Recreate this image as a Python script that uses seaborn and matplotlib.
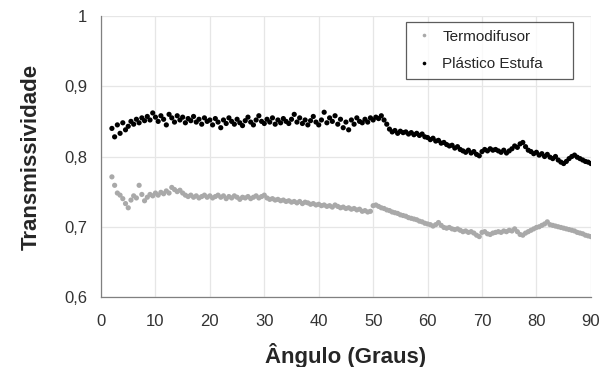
import numpy as np
import pandas as pd
import matplotlib
matplotlib.use("Agg")
import matplotlib.pyplot as plt
import seaborn as sns

angles = [round(2.0 + 0.5 * i, 1) for i in range(177)]

plastico = [
    0.840, 0.828, 0.845, 0.833, 0.848, 0.838, 0.843, 0.850, 0.846, 0.853,
    0.848, 0.855, 0.851, 0.857, 0.852, 0.862, 0.856, 0.850, 0.858, 0.853,
    0.845, 0.860, 0.855, 0.849, 0.858, 0.852, 0.856, 0.848, 0.854, 0.851,
    0.857, 0.849, 0.853, 0.846, 0.855, 0.850, 0.852, 0.845, 0.854, 0.849,
    0.841, 0.852, 0.847, 0.855, 0.850, 0.846, 0.853, 0.848, 0.844, 0.851,
    0.856, 0.849, 0.845, 0.852, 0.858, 0.850, 0.847, 0.853, 0.849, 0.855,
    0.846, 0.852, 0.848, 0.854, 0.850, 0.847, 0.853, 0.860, 0.849, 0.855,
    0.847, 0.852, 0.845, 0.851, 0.857, 0.849, 0.845, 0.852, 0.863, 0.848,
    0.855, 0.850, 0.858, 0.846, 0.853, 0.841, 0.849, 0.838, 0.852, 0.846,
    0.855, 0.850, 0.848, 0.853, 0.849, 0.855, 0.852, 0.856, 0.854, 0.858,
    0.852, 0.846, 0.839, 0.835, 0.837, 0.833, 0.836, 0.834, 0.835, 0.832,
    0.834, 0.831, 0.833, 0.830, 0.832, 0.828, 0.827, 0.824, 0.826, 0.822,
    0.823, 0.819, 0.820, 0.817, 0.815, 0.816, 0.812, 0.814, 0.810, 0.808,
    0.806, 0.809, 0.805, 0.807, 0.803, 0.801, 0.807, 0.810, 0.808, 0.811,
    0.809, 0.810, 0.808, 0.806, 0.809, 0.805, 0.808, 0.811, 0.815, 0.813,
    0.818, 0.820, 0.814, 0.809, 0.807, 0.804, 0.806, 0.802, 0.804, 0.800,
    0.803, 0.799, 0.797, 0.800, 0.795, 0.792, 0.790, 0.793, 0.797, 0.800,
    0.802, 0.799, 0.797, 0.795, 0.793, 0.792, 0.790,
]

termodifusor = [
    0.771, 0.759, 0.748, 0.745, 0.740, 0.733, 0.727, 0.738, 0.744, 0.741,
    0.759, 0.746, 0.737, 0.742, 0.746, 0.744, 0.748, 0.745, 0.749, 0.747,
    0.751, 0.748, 0.756, 0.753, 0.750, 0.752, 0.748, 0.745, 0.743, 0.745,
    0.742, 0.744, 0.741, 0.743, 0.745, 0.742, 0.744, 0.741, 0.743, 0.745,
    0.742, 0.744, 0.740, 0.743, 0.741, 0.744, 0.742, 0.739, 0.742, 0.741,
    0.743, 0.740, 0.742, 0.744, 0.741, 0.743, 0.745, 0.741, 0.739, 0.740,
    0.738, 0.739, 0.737, 0.738, 0.736, 0.737, 0.735, 0.736, 0.734, 0.736,
    0.733, 0.735, 0.734, 0.732, 0.733, 0.731, 0.732, 0.730, 0.731, 0.729,
    0.730, 0.728, 0.731, 0.729, 0.727, 0.728, 0.726, 0.727, 0.725, 0.726,
    0.724, 0.725, 0.722, 0.723, 0.721, 0.722, 0.730, 0.731, 0.729, 0.727,
    0.726, 0.724, 0.723, 0.721, 0.720, 0.719, 0.717, 0.716, 0.715, 0.713,
    0.712, 0.711, 0.710, 0.708, 0.707, 0.705, 0.704, 0.703, 0.701, 0.703,
    0.706, 0.702, 0.699, 0.698, 0.699, 0.697, 0.696, 0.697, 0.695, 0.693,
    0.694, 0.692, 0.693, 0.691, 0.688, 0.686, 0.692, 0.693, 0.690, 0.689,
    0.691, 0.692, 0.693, 0.692, 0.694, 0.693, 0.695, 0.694, 0.697, 0.693,
    0.689, 0.688, 0.691, 0.693, 0.695, 0.697, 0.699, 0.700, 0.702, 0.704,
    0.707, 0.703, 0.702, 0.701, 0.700, 0.699, 0.698, 0.697, 0.696, 0.695,
    0.694, 0.692, 0.691, 0.690, 0.688, 0.687, 0.686,
]

series_names = ["Termodifusor", "Plástico Estufa"]
x_ticks = [0, 10, 20, 30, 40, 50, 60, 70, 80, 90]
y_ticks = [0.6, 0.7, 0.8, 0.9, 1.0]
y_tick_labels = ["0,6", "0,7", "0,8", "0,9", "1"]

df = pd.DataFrame({
    "Ângulo": angles * 2,
    "Transmissividade": termodifusor + plastico,
    "Série": [series_names[0]] * len(angles) + [series_names[1]] * len(angles),
})

sns.set_style("white")
plt.rcParams["font.family"] = ["Liberation Sans", "DejaVu Sans"]

fig = plt.figure(figsize=(6.06, 3.67), dpi=100)
ax = fig.add_axes([0.1667, 0.1907, 0.8083, 0.7657])

sns.scatterplot(
    data=df, x="Ângulo", y="Transmissividade", hue="Série",
    palette={series_names[0]: "#a9a9a9", series_names[1]: "#000000"},
    s=14, linewidth=0, ax=ax, legend=True,
)

ax.set_xlim(0, 90)
ax.set_ylim(0.6, 1.0)
ax.set_xticks(x_ticks)
ax.set_yticks(y_ticks)
ax.set_yticklabels(y_tick_labels)
ax.grid(True, color="#e6e6e6", linewidth=0.9)
ax.set_axisbelow(True)

for side in ["top", "right"]:
    ax.spines[side].set_visible(False)
for side in ["left", "bottom"]:
    ax.spines[side].set_color("#808080")
    ax.spines[side].set_linewidth(0.9)

ax.tick_params(axis="x", direction="inout", length=6, width=0.9, color="#808080",
               labelsize=12, labelcolor="#333333", pad=9)
ax.tick_params(axis="y", direction="out", length=4, width=0.9, color="#808080",
               labelsize=12, labelcolor="#333333", pad=6)

ax.set_xlabel("Ângulo (Graus)", fontsize=16, fontweight="bold", labelpad=10)
ax.set_ylabel("Transmissividade", fontsize=16, fontweight="bold", labelpad=16)

handles, labels = ax.get_legend_handles_labels()
leg = ax.legend(handles, labels, loc="upper left",
                bbox_to_anchor=(0.622, 0.5, 0.341, 0.479), mode="expand",
                borderaxespad=0, frameon=True, fancybox=False, edgecolor="#333333",
                fontsize=11, markerscale=0.7, handletextpad=0.5, handlelength=1.4,
                borderpad=0.5, labelspacing=0.9, title=None)
leg.get_frame().set_linewidth(0.9)

fig.savefig("out.png", dpi=100)
